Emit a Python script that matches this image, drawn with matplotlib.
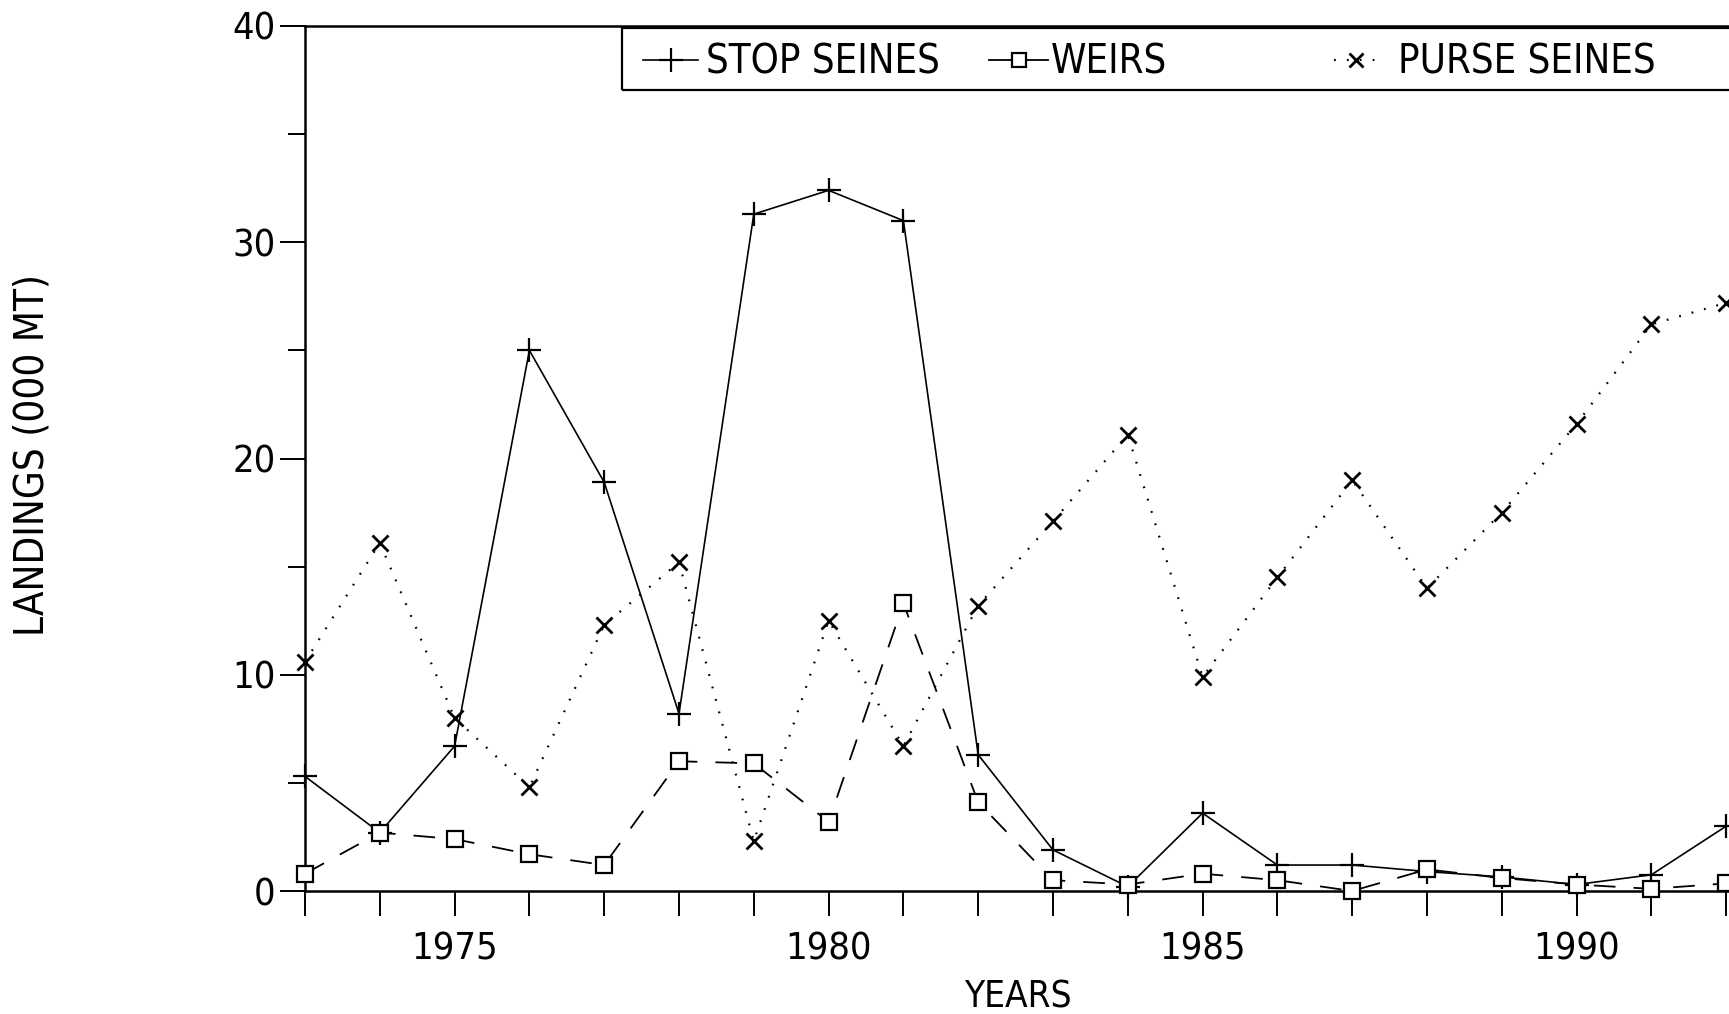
import matplotlib
matplotlib.use("Agg")
import matplotlib.pyplot as plt
from matplotlib import font_manager
from matplotlib.font_manager import FontProperties
from matplotlib.textpath import TextPath
from matplotlib.lines import Line2D
from matplotlib.patches import Rectangle
from matplotlib.ticker import FixedLocator, FuncFormatter

# ---------------- data ----------------
years = list(range(1973, 1993))
stop_seines = [5.3, 2.7, 6.7, 25.0, 18.9, 8.2, 31.3, 32.4, 31.0, 6.3,
               1.9, 0.2, 3.6, 1.2, 1.2, 0.9, 0.65, 0.3, 0.75, 3.0]
weirs = [0.8, 2.7, 2.4, 1.7, 1.2, 6.0, 5.9, 3.2, 13.3, 4.1,
         0.5, 0.3, 0.8, 0.5, 0.0, 1.0, 0.6, 0.3, 0.1, 0.35]
purse_seines = [10.6, 16.1, 8.0, 4.8, 12.3, 15.2, 2.3, 12.5, 6.7, 13.2,
                17.1, 21.1, 9.9, 14.5, 19.0, 14.0, 17.5, 21.6, 26.2, 27.2]
series_labels = ["STOP SEINES", "WEIRS", "PURSE SEINES"]
x_label = "YEARS"
y_label = "LANDINGS (000 MT)"
y_ticks = [0, 10, 20, 30, 40]
y_minor = [5, 15, 25, 35]
x_labeled = [1975, 1980, 1985, 1990]

# ---------------- fonts ----------------
W, H, DPI = 1729, 1014, 100
names = {f.name for f in font_manager.fontManager.ttflist}
if "Liberation Sans Narrow" in names:
    FAM, STRETCH = ["Liberation Sans Narrow", "DejaVu Sans"], "normal"
else:
    FAM, STRETCH = ["DejaVu Sans"], "condensed"
plt.rcParams["font.family"] = FAM
plt.rcParams["font.stretch"] = STRETCH
FP = FontProperties(family=FAM[0], stretch=STRETCH)


def fit(s, width_px, height_px):
    ext = TextPath((0, 0), s, size=100, prop=FP).get_extents()
    w_em = ext.width / 100.0
    h_em = ext.height / 100.0
    pw = width_px * 72 / (DPI * w_em)
    ph = height_px * 72 / (DPI * h_em)
    return min(pw, ph)


fs_tick = fit("1975", 80, 40)
fs_leg = fit("STOP SEINES", 230, 36)
fs_xl = fit("YEARS", 106, 36)
fs_yl = fit("LANDINGS (000 MT)", 356, 40)

# ---------------- figure ----------------
fig = plt.figure(figsize=(W / DPI, H / DPI), dpi=DPI)
px_year = 74.8
x0_px, y0_px, y40_px = 305, 891, 26
ax = fig.add_axes([x0_px / W, 1 - y0_px / H, 20 * px_year / W, (y0_px - y40_px) / H])
ax.set_xlim(1973, 1993)
ax.set_ylim(0, 40)

lw_sp = 1.8
for sp in ax.spines.values():
    sp.set_linewidth(lw_sp)

ax.plot(years, stop_seines, color="black", lw=1.2, marker="+", ms=17, mew=1.6,
        clip_on=False, zorder=3)
ax.plot(years, weirs, color="black", lw=1.3, ls=(0, (12, 10)), marker="s", ms=11,
        mfc="white", mec="black", mew=1.6, clip_on=False, zorder=3)
ax.plot(years, purse_seines, color="black", lw=1.6, ls=(0, (0.8, 5.0)), marker="x",
        ms=12, mew=2.0, clip_on=False, zorder=3)

ax.xaxis.set_major_locator(FixedLocator(years))
ax.xaxis.set_major_formatter(FuncFormatter(lambda v, p: f"{int(round(v))}" if int(round(v)) in x_labeled else ""))
ax.yaxis.set_major_locator(FixedLocator(y_ticks))
ax.yaxis.set_minor_locator(FixedLocator(y_minor))
ax.tick_params(axis="x", which="major", direction="out", length=18, width=1.4,
               pad=11, labelsize=fs_tick)
ax.tick_params(axis="y", which="major", direction="out", length=18, width=1.4,
               pad=3, labelsize=fs_tick)
ax.tick_params(axis="y", which="minor", direction="out", length=12, width=1.4)

# axis labels
fig.text(1018 / W, 1 - 997 / H, x_label, ha="center", va="center", fontsize=fs_xl)
fig.text(33 / W, 1 - 455 / H, y_label, ha="center", va="center", rotation=90,
         fontsize=fs_yl)

# legend frame
fig.patches.append(Rectangle((622 / W, 1 - 90 / H), 1.2, (90 - 28) / H,
                             transform=fig.transFigure, fill=False, lw=1.6,
                             ec="black", clip_on=False))

pt_px = fs_leg * DPI / 72
handles = [
    Line2D([], [], color="black", lw=1.2, marker="+", ms=17, mew=1.6),
    Line2D([], [], color="black", lw=1.3, marker="s", ms=10, mfc="white", mew=1.6),
    Line2D([], [], color="black", lw=1.6, ls=(0, (0.8, 5.0)), marker="x", ms=10, mew=2.0),
]
leg_specs = [(643, 55, 8), (989, 59, 3), (1334, 44, 20)]
for h, lab, (xs, hl, gap) in zip(handles, series_labels, leg_specs):
    lg = fig.legend([h], [lab], loc="center left",
                    bbox_to_anchor=(xs / W, 1 - 63 / H), frameon=False,
                    fontsize=fs_leg, borderpad=0, borderaxespad=0,
                    handlelength=hl / pt_px, handletextpad=gap / pt_px,
                    numpoints=1)

fig.savefig("out.png", dpi=DPI)
